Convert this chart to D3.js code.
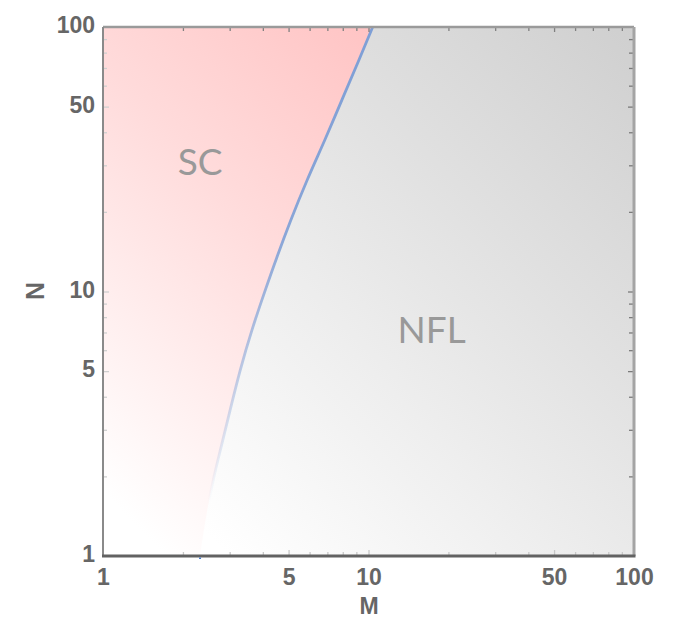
<!DOCTYPE html>
<html>
<head>
<meta charset="utf-8">
<script src="https://cdn.jsdelivr.net/npm/d3@7"></script>
<style>
  body { margin: 0; background: #fff; }
  svg { display: block; }
</style>
</head>
<body>
<div id="chart"></div>
<script>
// boundary between the SC and NFL regions
var boundaryM = [2.32, 2.45, 2.62, 2.77, 3.01, 3.28, 3.63, 4.08, 4.48, 5.09, 5.86, 6.86, 7.93, 9.21, 10.37];
var boundaryN = [1, 1.45, 2.02, 2.52, 3.56, 5.05, 7.15, 10.1, 13.2, 18.6, 26.4, 37.4, 52.9, 75, 100];

var xLabels = [1, 5, 10, 50, 100];
var yLabels = [1, 5, 10, 50, 100];
var minorTicks = [2, 3, 4, 6, 7, 8, 9, 20, 30, 40, 60, 70, 80, 90];

var regionLabels = [
  {text: "SC", m: 2.32, n: 27.6},
  {text: "NFL", m: 17.3, n: 6.39}
];

var W = 681, H = 618;
var plotLeft = 103, plotRight = 634, plotTop = 27, plotBottom = 556;

var svg = d3.select("#chart").append("svg")
    .attr("width", W)
    .attr("height", H);

var x = d3.scaleLog().domain([1, 100]).range([plotLeft, plotRight]);
var y = d3.scaleLog().domain([1, 100]).range([plotBottom, plotTop]);

var defs = svg.append("defs");

function diagGradient(id, stops) {
  var g = defs.append("linearGradient")
      .attr("id", id)
      .attr("gradientUnits", "userSpaceOnUse")
      .attr("x1", x(1)).attr("y1", y(1))
      .attr("x2", x(100)).attr("y2", y(100));
  stops.forEach(function(s) {
    g.append("stop").attr("offset", s[0]).attr("stop-color", s[1]);
  });
}
diagGradient("grayGrad", [[0.12, "#ffffff"], [0.5, "#eaeaea"], [1, "#cfcfcf"]]);
diagGradient("redGrad", [[0.06, "#ffffff"], [0.45, "#ffdcdc"], [0.75, "#ffc4c4"], [1, "#ffb8b8"]]);

var lineGrad = defs.append("linearGradient")
    .attr("id", "lineGrad")
    .attr("gradientUnits", "userSpaceOnUse")
    .attr("x1", 0).attr("y1", y(100))
    .attr("x2", 0).attr("y2", y(1));
[[0, 1], [0.4, 0.9], [0.65, 0.5], [0.83, 0.15], [0.9, 0]].forEach(function(s) {
  lineGrad.append("stop").attr("offset", s[0])
      .attr("stop-color", "#7e9fd6").attr("stop-opacity", s[1]);
});

var pts = boundaryM.map(function(m, i) { return [m, boundaryN[i]]; });

var curve = d3.line()
    .x(function(d) { return x(d[0]); })
    .y(function(d) { return y(d[1]); })
    .curve(d3.curveBasis);

// NFL background over the whole plot
svg.append("rect")
    .attr("x", plotLeft).attr("y", plotTop)
    .attr("width", plotRight - plotLeft).attr("height", plotBottom - plotTop)
    .style("fill", "url(#grayGrad)");

// SC region: left of the boundary
svg.append("path")
    .attr("d", curve(pts) + "L" + x(1) + "," + y(100) + "L" + x(1) + "," + y(1) + "Z")
    .style("fill", "url(#redGrad)");

// boundary line
svg.append("path")
    .attr("d", curve(pts))
    .style("fill", "none")
    .style("stroke", "url(#lineGrad)")
    .style("stroke-width", 2.8);

// region labels
svg.selectAll(".region")
    .data(regionLabels)
    .enter()
    .append("text")
    .attr("class", "region")
    .attr("x", function(d) { return x(d.m); })
    .attr("y", function(d) { return y(d.n); })
    .attr("text-anchor", "middle")
    .style("font-family", "Lato, 'Open Sans', sans-serif")
    .style("font-size", "37px")
    .style("fill", "#999")
    .text(function(d) { return d.text; });

// tick marks on all four sides (pointing inwards)
function ticks(axisFn, scale, values, size, transform, color) {
  var g = svg.append("g")
      .attr("transform", transform)
      .call(axisFn(scale).tickValues(values).tickSize(size).tickFormat(""));
  g.select(".domain").remove();
  g.selectAll("line").style("stroke", color).style("stroke-width", 1.3);
}
var major = [5, 10, 50];
ticks(d3.axisBottom, x, minorTicks, -4, "translate(0," + plotBottom + ")", "#c8c8c8");
ticks(d3.axisBottom, x, major, -6, "translate(0," + plotBottom + ")", "#c8c8c8");
ticks(d3.axisTop, x, minorTicks, -4, "translate(0," + plotTop + ")", "#808080");
ticks(d3.axisTop, x, major, -5, "translate(0," + plotTop + ")", "#808080");
ticks(d3.axisLeft, y, minorTicks, -4, "translate(" + plotLeft + ",0)", "#cfcfcf");
ticks(d3.axisLeft, y, major, -6, "translate(" + plotLeft + ",0)", "#cfcfcf");
ticks(d3.axisRight, y, minorTicks, -5, "translate(" + plotRight + ",0)", "#7a7a7a");
ticks(d3.axisRight, y, major, -6, "translate(" + plotRight + ",0)", "#7a7a7a");

// frame
svg.append("line").attr("x1", plotLeft).attr("x2", plotRight).attr("y1", plotTop).attr("y2", plotTop)
    .style("stroke", "#9a9a9a").style("stroke-width", 2.5);
svg.append("line").attr("x1", plotRight).attr("x2", plotRight).attr("y1", plotTop).attr("y2", plotBottom)
    .style("stroke", "#a4a4a4").style("stroke-width", 3);
svg.append("line").attr("x1", plotLeft).attr("x2", plotLeft).attr("y1", plotTop).attr("y2", plotBottom)
    .style("stroke", "#8a8a8a").style("stroke-width", 2);
svg.append("line").attr("x1", plotLeft - 1).attr("x2", plotRight + 1.5).attr("y1", plotBottom).attr("y2", plotBottom)
    .style("stroke", "#626262").style("stroke-width", 3);

// boundary end on the bottom edge
svg.append("line")
    .attr("x1", x(boundaryM[0])).attr("x2", x(boundaryM[0]))
    .attr("y1", plotBottom + 1.5).attr("y2", plotBottom + 3)
    .style("stroke", "#4a7cc9").style("stroke-width", 2);

// tick labels
var labelFont = "'Liberation Sans', Arial, sans-serif";
var xAxis = svg.append("g")
    .attr("transform", "translate(0," + plotBottom + ")")
    .call(d3.axisBottom(x).tickValues(xLabels).tickSize(0).tickPadding(13).tickFormat(d3.format("d")));
xAxis.select(".domain").remove();
xAxis.selectAll("text")
    .style("font-family", labelFont).style("font-weight", "bold")
    .style("font-size", "23px").style("fill", "#666");

var yAxis = svg.append("g")
    .attr("transform", "translate(" + plotLeft + ",0)")
    .call(d3.axisLeft(y).tickValues(yLabels).tickSize(0).tickPadding(8).tickFormat(d3.format("d")));
yAxis.select(".domain").remove();
yAxis.selectAll("text")
    .attr("dy", "0.25em")
    .style("font-family", labelFont).style("font-weight", "bold")
    .style("font-size", "23px").style("fill", "#666");

// axis titles
svg.append("text")
    .attr("x", (plotLeft + plotRight) / 2 + 0.5)
    .attr("y", 614)
    .attr("text-anchor", "middle")
    .style("font-family", labelFont).style("font-weight", "bold")
    .style("font-size", "23px").style("fill", "#666")
    .text("M");

svg.append("text")
    .attr("transform", "translate(44,291) rotate(-90)")
    .attr("text-anchor", "middle")
    .style("font-family", labelFont).style("font-weight", "bold")
    .style("font-size", "25px").style("fill", "#666")
    .text("N");
</script>
</body>
</html>
